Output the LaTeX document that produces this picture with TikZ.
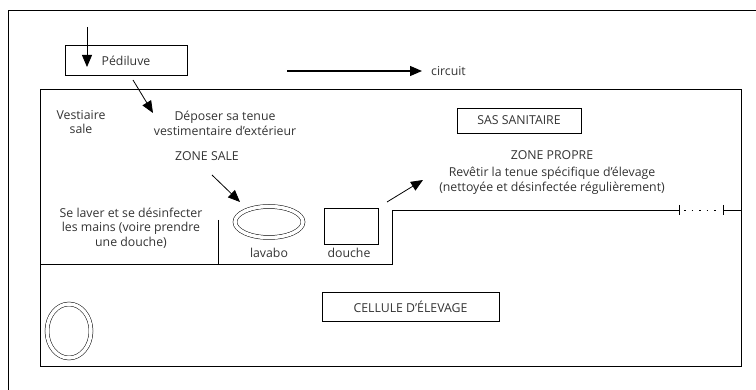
\documentclass[tikz,border=0pt]{standalone}
\usepackage{fontspec}
\setmainfont{Open Sans}
\usetikzlibrary{arrows.meta,shapes.geometric}

\tikzset{
  wall/.style={line width=0.8pt},
  flow/.style={line width=0.8pt, -{Triangle[length=12pt,width=10pt]}},
  txt/.style={font=\fontsize{12.3}{14.5}\selectfont, align=center, inner sep=0pt, text=black!80},
  panel/.style={draw, line width=0.6pt, txt},
  basin/.style={draw, ellipse, line width=0.5pt, double, double distance=3.5pt}
}

\begin{document}
\begin{tikzpicture}[x=1pt,y=-1pt]
        \useasboundingbox (0,0) rectangle (756,390);
        % frame
        \draw[line width=0.6pt] (8,390) -- (8,10) -- (756,10);

        % Pediluve
        \node[panel, minimum width=122, minimum height=30] (pediluve) at (126,60.5) {Pédiluve};
        \coordinate (entree) at (87,27);
        \coordinate (pied) at (87,67);
        \draw[flow] (entree) -- (pied);

        % circuit
        \coordinate (circ) at (287,71);
        \node[txt, anchor=west] (circuit) at (431,71) {circuit};
        \draw[flow, line width=1.3pt] (circ) -- ([xshift=-9]circuit.west);

        % building
        \draw[wall] (40,89) rectangle (741,366);
        \draw[wall] (40,264) -- (392,264) -- (392,210) -- (679,210);
        \draw[wall] (679,205) -- (679,215);
        \draw[wall, dash pattern=on 1.5pt off 6pt] (684,210) -- (720,210);
        \draw[wall] (723,205) -- (723,215);
        \draw[wall] (723,210) -- (741,210);
        \draw[wall] (218,220) -- (218,264);

        % zone sale
        \node[txt] (vestiaire) at (81,122) {Vestiaire\\sale};
        \node[txt] (depot) at (225,123.5) {Déposer sa tenue\\vestimentaire d'extérieur};
        \coordinate (p1) at (133,80);
        \coordinate (p2) at (153,113);
        \draw[flow] (p1) -- (p2);
        \node[txt] (zonesale) at (207,156) {ZONE SALE};
        \coordinate (s1) at (212,175);
        \coordinate (s2) at (240,202);
        \draw[flow] (s1) -- (s2);
        \node[txt] (laver) at (131,228) {Se laver et se désinfecter\\les mains (voire prendre\\une douche)};
        \node[basin, minimum width=68, minimum height=31] (lavabo) at (269,222) {};
        \node[txt] (lavabotxt) at (269,253) {lavabo};
        \node[draw, line width=0.6pt, minimum width=54, minimum height=36] (douche) at (351,226) {};
        \node[txt] (douchetxt) at (349,253) {douche};

        % zone propre
        \coordinate (r1) at (387,202);
        \coordinate (r2) at (423,180);
        \draw[flow] (r1) -- (r2);
        \node[panel, minimum width=124, minimum height=25] (sas) at (519,120.5) {SAS SANITAIRE};
        \node[txt] (zonepropre) at (552,155) {ZONE PROPRE};
        \node[txt] (revetir) at (552,181) {Revêtir la tenue spécifique d'élevage\\(nettoyée et désinfectée régulièrement)};

        % cellule
        \node[panel, minimum width=177, minimum height=29] (cellule) at (410.5,306.5) {CELLULE D'ÉLEVAGE};
        \node[basin, minimum width=44, minimum height=54] (abreuvoir) at (69,331) {};
\end{tikzpicture}
\end{document}
